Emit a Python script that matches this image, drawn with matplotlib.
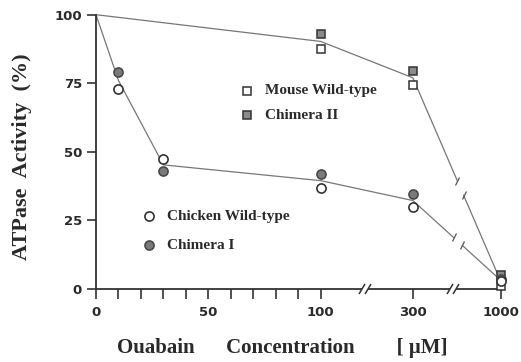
import numpy as np
import matplotlib
matplotlib.use("Agg")
import matplotlib.pyplot as plt
from matplotlib.markers import MarkerStyle
from matplotlib.transforms import Affine2D

# ---------------- data ----------------
conc = [10, 30, 100, 300, 1000]            # Ouabain concentration (uM)
chicken_wt = [73, 47.5, 37, 30, 3]         # open circles
chimera_1 = [79, 43, 42, 34.5, 3.5]        # filled circles
conc_sq = [100, 300, 1000]
mouse_wt = [87.5, 74.5, 1]                 # open squares
chimera_2 = [93, 79.5, 5]                  # filled squares
control_conc = 0
control_activity = 100
xtick_vals = [0, 50, 100, 300, 1000]
xtick_labels = ["0", "50", "100", "300", "1000"]
ytick_vals = [0, 25, 50, 75, 100]
ytick_labels = ["0", "25", "50", "75", "100"]

INK = "#2a2a2a"
LINE = "#777777"


# ---------------- broken x scale ----------------
def fwd(x):
    x = np.asarray(x, dtype=float)
    return np.where(x <= 100, x,
                    np.where(x <= 300, 100 + (x - 100) * 41 / 200,
                             141 + (x - 300) * 39 / 700))


def inv(p):
    p = np.asarray(p, dtype=float)
    return np.where(p <= 100, p,
                    np.where(p <= 141, 100 + (p - 100) * 200 / 41,
                             300 + (p - 141) * 700 / 39))


W, H = 521, 362
fig = plt.figure(figsize=(W / 100, H / 100), dpi=100)
ax = fig.add_axes([96 / W, 73 / H, 409 / W, 274.3 / H])
ax.set_xscale("function", functions=(fwd, inv))
ax.set_xlim(0, float(inv(182)))
ax.set_ylim(0, 100)

# spines
for s in ("top", "right", "bottom"):
    ax.spines[s].set_visible(False)
ax.spines["left"].set_color("#333333")
ax.spines["left"].set_linewidth(1.3)

# manual broken bottom axis
axis_breaks_pos = [119.7, 159.0]
half_gap = 1.3
xmax_pos = 182
seg_edges = [0]
for b in axis_breaks_pos:
    seg_edges += [b - half_gap, b + half_gap]
seg_edges.append(xmax_pos)
for i in range(0, len(seg_edges), 2):
    ax.plot(inv([seg_edges[i], seg_edges[i + 1]]), [0, 0], color="#333333",
            lw=1.3, clip_on=False, solid_capstyle="butt", zorder=2.5)
slash = MarkerStyle("|", transform=Affine2D().rotate_deg(-30))
for b in axis_breaks_pos:
    ax.plot(inv([b - half_gap, b + half_gap]), [0, 0], ls="none", marker=slash,
            ms=9, mew=1.1, color="#333333", clip_on=False, zorder=2.6)

# ticks
ax.set_xticks(xtick_vals)
ax.set_xticklabels(xtick_labels)
ax.set_xticks(np.arange(10, 100, 10), minor=True)
ax.set_yticks(ytick_vals)
ax.set_yticklabels(ytick_labels)
ax.tick_params(axis="x", which="both", direction="out", length=7.5, width=1.2,
               color="#333333", pad=5)
ax.tick_params(axis="y", which="both", direction="out", length=6.5, width=1.2,
               color="#333333", pad=3.5)
for t in ax.get_xticklabels() + ax.get_yticklabels():
    t.set_fontfamily("DejaVu Sans")
    t.set_fontweight("bold")
    t.set_fontsize(9.5)
    t.set_color(INK)


# ---------------- connecting lines ----------------
def draw_broken_line(xs, ys, gap):
    xs = np.asarray(xs, float)
    ys = np.asarray(ys, float)
    y0 = np.interp(gap[0], xs, ys)
    y1 = np.interp(gap[1], xs, ys)
    left = xs < gap[0]
    right = xs > gap[1]
    ax.plot(np.r_[xs[left], gap[0]], np.r_[ys[left], y0], color=LINE, lw=0.9,
            zorder=2, clip_on=False)
    ax.plot(np.r_[gap[1], xs[right]], np.r_[y1, ys[right]], color=LINE, lw=0.9,
            zorder=2, clip_on=False)
    mk = MarkerStyle("|", transform=Affine2D().rotate_deg(-22))
    ax.plot([gap[0], gap[1]], [y0, y1], ls="none", marker=mk, ms=6, mew=0.9,
            color="#555555", zorder=2)


circ_mean = (np.array(chicken_wt) + np.array(chimera_1)) / 2
sq_mean = (np.array(mouse_wt) + np.array(chimera_2)) / 2
draw_broken_line([control_conc] + conc, [control_activity] + list(circ_mean), (625, 695))
draw_broken_line([control_conc] + conc_sq, [control_activity] + list(sq_mean), (655, 705))

# ---------------- markers ----------------
ax.plot(conc_sq, chimera_2, ls="none", marker="s", ms=6.2, mfc="#8a8a8a", mec="#333333",
        mew=1.1, zorder=4, clip_on=False)
ax.plot(conc_sq, mouse_wt, ls="none", marker="s", ms=6.2, mfc="white", mec="#333333",
        mew=1.1, zorder=4, clip_on=False)
ax.plot(conc, chimera_1, ls="none", marker="o", ms=6.6, mfc="#7a7a7a", mec="#444444",
        mew=1.1, zorder=5, clip_on=False)
ax.plot(conc, chicken_wt, ls="none", marker="o", ms=6.6, mfc="white", mec="#333333",
        mew=1.2, zorder=6, clip_on=False)

# ---------------- legends (manual) ----------------
leg_font = dict(family="Liberation Serif", weight="bold", size=11, color=INK,
                va="center", ha="left", transform=ax.transAxes)
ax.plot([0.1296], [0.266], transform=ax.transAxes, marker="o", ms=6.6, mfc="white",
        mec="#333333", mew=1.2, ls="none")
ax.plot([0.1296], [0.160], transform=ax.transAxes, marker="o", ms=6.6, mfc="#7a7a7a",
        mec="#444444", mew=1.1, ls="none")
ax.text(0.1736, 0.266, "Chicken Wild-type", **leg_font)
ax.text(0.1736, 0.160, "Chimera I", **leg_font)
ax.plot([0.369], [0.722], transform=ax.transAxes, marker="s", ms=6.2, mfc="white",
        mec="#333333", mew=1.1, ls="none")
ax.plot([0.369], [0.634], transform=ax.transAxes, marker="s", ms=6.2, mfc="#8a8a8a",
        mec="#333333", mew=1.1, ls="none")
ax.text(0.413, 0.722, "Mouse Wild-type", **leg_font)
ax.text(0.413, 0.634, "Chimera II", **leg_font)

# ---------------- axis labels ----------------
fig.text(22 / W, 1 - 157 / H, "ATPase  Activity  (%)", rotation=90, ha="center",
         va="center", family="Liberation Serif", weight="bold", size=16, color=INK)
fig.text(117 / W, 1 - 353.5 / H, "Ouabain      Concentration        [ μM]", ha="left",
         va="baseline", family="Liberation Serif", weight="bold", size=15, color=INK)

fig.savefig("out.png", dpi=100)
